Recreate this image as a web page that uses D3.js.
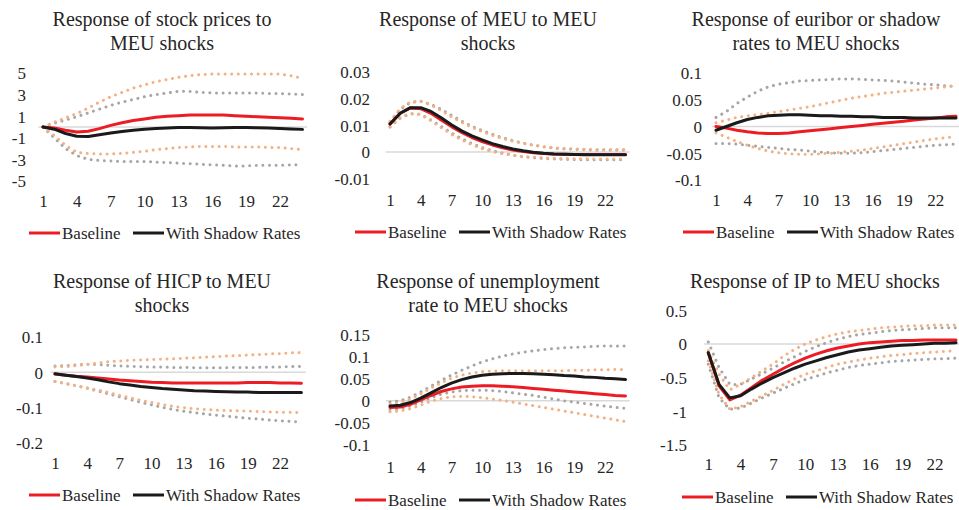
<!DOCTYPE html>
<html>
<head>
<meta charset="utf-8">
<script src="https://cdn.jsdelivr.net/npm/d3@7/dist/d3.min.js"></script>
<style>
  html, body { margin: 0; padding: 0; background: #ffffff; }
  svg { display: block; }
</style>
</head>
<body>
<svg id="chart" width="959" height="510"></svg>
<script>
// Horizon (periods after the shock) and the labelled periods on the x axis
const periods = [1,2,3,4,5,6,7,8,9,10,11,12,13,14,15,16,17,18,19,20,21,22,23,24];
const xTickLabels = [1,4,7,10,13,16,19,22];
const legendLabels = ["Baseline", "With Shadow Rates"];

// Stock prices
const stockTicks = [-5,-3,-1,1,3,5];
const stockBase = [0,-0.1,-0.3,-0.47,-0.4,-0.15,0.15,0.4,0.6,0.75,0.9,1.0,1.05,1.1,1.1,1.1,1.1,1.05,1.0,0.95,0.9,0.85,0.8,0.75];
const stockShadow = [0,-0.2,-0.6,-0.85,-0.87,-0.72,-0.55,-0.42,-0.3,-0.2,-0.15,-0.1,-0.05,-0.05,-0.08,-0.1,-0.07,-0.05,-0.05,-0.08,-0.1,-0.13,-0.18,-0.22];
const stockBaseUp = [0,0.45,0.85,1.25,1.75,2.3,2.8,3.2,3.6,3.9,4.2,4.4,4.6,4.75,4.85,4.9,4.9,4.9,4.9,4.9,4.9,4.9,4.75,4.5];
const stockBaseLow = [0,-0.8,-1.7,-2.35,-2.45,-2.5,-2.5,-2.45,-2.35,-2.25,-2.1,-2.0,-1.9,-1.85,-1.8,-1.8,-1.8,-1.85,-1.85,-1.85,-1.9,-1.9,-2.0,-2.1];
const stockShadowUp = [0,0.35,0.65,0.95,1.3,1.65,2.0,2.3,2.55,2.8,3.0,3.15,3.3,3.3,3.2,3.15,3.15,3.15,3.15,3.15,3.1,3.1,3.05,3.0];
const stockShadowLow = [0,-1.0,-2.0,-2.65,-3.0,-3.1,-3.15,-3.2,-3.2,-3.2,-3.25,-3.3,-3.35,-3.4,-3.45,-3.5,-3.55,-3.6,-3.6,-3.55,-3.55,-3.55,-3.5,-3.5];

// MEU
const meuTicks = [-0.01,0,0.01,0.02,0.03];
const meuBase = [0.0105,0.0145,0.0165,0.0162,0.0145,0.012,0.0095,0.0073,0.0054,0.0039,0.0026,0.0015,0.0007,0.0001,-0.0003,-0.0006,-0.0008,-0.0009,-0.001,-0.001,-0.001,-0.001,-0.001,-0.001];
const meuShadow = [0.0105,0.0145,0.0166,0.0166,0.0152,0.0128,0.0102,0.0079,0.006,0.0045,0.0031,0.002,0.0011,0.0004,-0.0001,-0.0005,-0.0008,-0.0009,-0.001,-0.0011,-0.0011,-0.0011,-0.0011,-0.0011];
const meuBaseUp = [0.0115,0.0162,0.0188,0.019,0.0176,0.0155,0.0132,0.0111,0.0092,0.0076,0.0062,0.005,0.004,0.0032,0.0025,0.002,0.0016,0.0013,0.0011,0.001,0.0009,0.0009,0.0009,0.0009];
const meuBaseLow = [0.0095,0.013,0.0145,0.014,0.0117,0.0091,0.0066,0.0045,0.0027,0.0012,0.0001,-0.0007,-0.0013,-0.0017,-0.002,-0.0022,-0.0024,-0.0025,-0.0026,-0.0026,-0.0027,-0.0027,-0.0027,-0.0027];
const meuShadowUp = [0.011,0.016,0.0185,0.019,0.0178,0.016,0.0137,0.0115,0.0096,0.008,0.0066,0.0053,0.0042,0.0033,0.0025,0.0019,0.0014,0.0011,0.0009,0.0008,0.0007,0.0007,0.0007,0.0007];
const meuShadowLow = [0.0093,0.0127,0.0143,0.0141,0.012,0.0096,0.0071,0.005,0.0031,0.0016,0.0004,-0.0005,-0.0012,-0.0018,-0.0022,-0.0025,-0.0027,-0.0028,-0.0029,-0.003,-0.003,-0.003,-0.003,-0.003];

// Euribor or shadow rates
const rateTicks = [-0.1,-0.05,0,0.05,0.1];
const rateBase = [0,-0.003,-0.007,-0.01,-0.012,-0.013,-0.013,-0.012,-0.01,-0.008,-0.006,-0.004,-0.002,0,0.002,0.004,0.006,0.008,0.01,0.012,0.014,0.016,0.018,0.019];
const rateShadow = [-0.007,0,0.007,0.013,0.017,0.02,0.021,0.022,0.022,0.021,0.02,0.02,0.019,0.019,0.018,0.018,0.017,0.017,0.017,0.016,0.016,0.016,0.016,0.016];
const rateBaseUp = [0.007,0.012,0.017,0.02,0.022,0.025,0.028,0.031,0.034,0.037,0.041,0.045,0.049,0.053,0.056,0.059,0.062,0.064,0.066,0.068,0.07,0.072,0.074,0.076];
const rateBaseLow = [-0.012,-0.02,-0.028,-0.035,-0.041,-0.046,-0.049,-0.051,-0.052,-0.052,-0.051,-0.05,-0.048,-0.046,-0.044,-0.041,-0.038,-0.035,-0.032,-0.029,-0.026,-0.023,-0.021,-0.019];
const rateShadowUp = [0.017,0.028,0.043,0.055,0.066,0.074,0.079,0.082,0.085,0.086,0.087,0.088,0.089,0.089,0.088,0.087,0.086,0.085,0.083,0.081,0.079,0.078,0.076,0.075];
const rateShadowLow = [-0.032,-0.032,-0.033,-0.035,-0.037,-0.039,-0.041,-0.043,-0.044,-0.046,-0.048,-0.049,-0.05,-0.05,-0.049,-0.047,-0.045,-0.043,-0.041,-0.039,-0.037,-0.035,-0.034,-0.033];

// HICP
const hicpTicks = [-0.2,-0.1,0,0.1];
const hicpBase = [-0.005,-0.008,-0.011,-0.013,-0.016,-0.019,-0.022,-0.024,-0.026,-0.028,-0.029,-0.03,-0.03,-0.03,-0.03,-0.03,-0.03,-0.03,-0.029,-0.029,-0.029,-0.03,-0.03,-0.031];
const hicpShadow = [-0.004,-0.008,-0.012,-0.016,-0.021,-0.027,-0.032,-0.036,-0.04,-0.043,-0.046,-0.048,-0.05,-0.052,-0.053,-0.054,-0.055,-0.056,-0.056,-0.057,-0.057,-0.057,-0.057,-0.057];
const hicpBaseUp = [0.015,0.016,0.019,0.022,0.026,0.03,0.032,0.034,0.035,0.036,0.037,0.038,0.04,0.041,0.043,0.044,0.046,0.047,0.049,0.05,0.052,0.053,0.055,0.056];
const hicpBaseLow = [-0.026,-0.032,-0.038,-0.044,-0.05,-0.057,-0.065,-0.072,-0.079,-0.085,-0.091,-0.096,-0.1,-0.103,-0.105,-0.107,-0.108,-0.109,-0.11,-0.111,-0.112,-0.113,-0.113,-0.114];
const hicpShadowUp = [0.018,0.019,0.021,0.023,0.022,0.02,0.018,0.017,0.016,0.015,0.015,0.014,0.014,0.013,0.013,0.013,0.013,0.014,0.014,0.014,0.015,0.015,0.016,0.017];
const hicpShadowLow = [-0.026,-0.032,-0.038,-0.045,-0.053,-0.061,-0.069,-0.077,-0.085,-0.092,-0.099,-0.105,-0.11,-0.114,-0.118,-0.121,-0.124,-0.127,-0.13,-0.132,-0.135,-0.137,-0.139,-0.141];

// Unemployment rate
const unempTicks = [-0.1,-0.05,0,0.05,0.1,0.15];
const unempBase = [-0.015,-0.014,-0.008,0.002,0.012,0.021,0.027,0.031,0.033,0.034,0.034,0.033,0.032,0.03,0.028,0.026,0.024,0.022,0.02,0.018,0.016,0.014,0.012,0.011];
const unempShadow = [-0.012,-0.01,-0.004,0.006,0.018,0.03,0.04,0.048,0.054,0.058,0.06,0.061,0.062,0.062,0.061,0.06,0.059,0.057,0.056,0.054,0.053,0.051,0.05,0.048];
const unempBaseUp = [-0.008,-0.004,0.004,0.016,0.029,0.041,0.051,0.058,0.063,0.066,0.067,0.068,0.068,0.068,0.068,0.068,0.068,0.068,0.069,0.069,0.07,0.07,0.071,0.071];
const unempBaseLow = [-0.025,-0.023,-0.018,-0.01,-0.001,0.005,0.009,0.01,0.009,0.007,0.004,0.001,-0.003,-0.007,-0.011,-0.015,-0.019,-0.023,-0.027,-0.031,-0.035,-0.039,-0.043,-0.047];
const unempShadowUp = [-0.003,0,0.008,0.02,0.033,0.046,0.058,0.069,0.079,0.088,0.095,0.101,0.106,0.11,0.113,0.116,0.118,0.12,0.121,0.122,0.123,0.124,0.124,0.124];
const unempShadowLow = [-0.02,-0.018,-0.012,-0.003,0.007,0.015,0.02,0.023,0.024,0.024,0.023,0.021,0.018,0.015,0.012,0.008,0.004,0,-0.003,-0.006,-0.009,-0.012,-0.015,-0.017];

// Industrial production
const ipTicks = [-1.5,-1,-0.5,0,0.5];
const ipBase = [-0.13,-0.62,-0.83,-0.76,-0.65,-0.54,-0.45,-0.36,-0.28,-0.21,-0.15,-0.1,-0.06,-0.03,0,0.02,0.03,0.04,0.05,0.05,0.06,0.06,0.06,0.06];
const ipShadow = [-0.13,-0.6,-0.8,-0.77,-0.67,-0.58,-0.5,-0.43,-0.36,-0.3,-0.25,-0.2,-0.16,-0.12,-0.09,-0.07,-0.05,-0.03,-0.02,-0.01,0,0.01,0.01,0.02];
const ipBaseUp = [-0.1,-0.45,-0.68,-0.6,-0.5,-0.4,-0.3,-0.18,-0.08,0,0.06,0.11,0.15,0.18,0.2,0.22,0.24,0.25,0.26,0.27,0.27,0.28,0.28,0.28];
const ipBaseLow = [-0.25,-0.75,-0.97,-0.93,-0.85,-0.77,-0.69,-0.6,-0.52,-0.45,-0.4,-0.35,-0.3,-0.27,-0.24,-0.21,-0.19,-0.17,-0.16,-0.14,-0.13,-0.12,-0.11,-0.1];
const ipShadowUp = [0.03,-0.35,-0.6,-0.6,-0.52,-0.44,-0.36,-0.27,-0.19,-0.11,-0.04,0.02,0.07,0.11,0.14,0.16,0.18,0.2,0.21,0.22,0.23,0.24,0.24,0.24];
const ipShadowLow = [-0.3,-0.8,-0.97,-0.95,-0.88,-0.8,-0.73,-0.66,-0.59,-0.53,-0.48,-0.43,-0.39,-0.35,-0.32,-0.3,-0.28,-0.26,-0.25,-0.24,-0.23,-0.22,-0.22,-0.21];

// Colours and text
const COL = {
  base: "#EC1C24",
  shadow: "#1A1A1A",
  baseBand: "#F4B183",
  shadowBand: "#A6A6A6",
  zero: "#D9D9D9",
  text: "#262626"
};
const FONT = "'Liberation Serif', 'Times New Roman', serif";

// Panel layout: title centre, first/last period position, value range on screen
const panels = [
  { title: ["Response of stock prices to", "MEU shocks"], cx: 162, titleY: 26,
    x0: 43, x1: 302.5, yDomain: [-5, 5], yRange: [181, 73], labelRight: 26, xLabelY: 201, legendY: 233,
    ticks: stockTicks, series: [stockBase, stockShadow, stockBaseUp, stockBaseLow, stockShadowUp, stockShadowLow] },
  { title: ["Response of MEU to MEU", "shocks"], cx: 488, titleY: 26,
    x0: 390, x1: 625.5, yDomain: [-0.01, 0.03], yRange: [178.5, 72], labelRight: 370, xLabelY: 200, legendY: 232,
    ticks: meuTicks, series: [meuBase, meuShadow, meuBaseUp, meuBaseLow, meuShadowUp, meuShadowLow] },
  { title: ["Response of euribor or shadow", "rates to MEU shocks"], cx: 816, titleY: 26,
    x0: 716, x1: 956, yDomain: [-0.1, 0.1], yRange: [180, 73], labelRight: 702, xLabelY: 200, legendY: 232,
    ticks: rateTicks, series: [rateBase, rateShadow, rateBaseUp, rateBaseLow, rateShadowUp, rateShadowLow] },
  { title: ["Response of HICP to MEU", "shocks"], cx: 162, titleY: 288,
    x0: 55, x1: 301.4, yDomain: [-0.2, 0.1], yRange: [443, 337], labelRight: 43, xLabelY: 463, legendY: 495,
    ticks: hicpTicks, series: [hicpBase, hicpShadow, hicpBaseUp, hicpBaseLow, hicpShadowUp, hicpShadowLow] },
  { title: ["Response of unemployment", "rate to MEU shocks"], cx: 488, titleY: 288,
    x0: 390, x1: 625.5, yDomain: [-0.1, 0.15], yRange: [445, 334.5], labelRight: 370, xLabelY: 467, legendY: 500,
    ticks: unempTicks, series: [unempBase, unempShadow, unempBaseUp, unempBaseLow, unempShadowUp, unempShadowLow] },
  { title: ["Response of IP to MEU shocks"], cx: 815, titleY: 288,
    x0: 708.3, x1: 956, yDomain: [-1.5, 0.5], yRange: [445, 310.3], labelRight: 687, xLabelY: 464, legendY: 497,
    ticks: ipTicks, series: [ipBase, ipShadow, ipBaseUp, ipBaseLow, ipShadowUp, ipShadowLow] }
];

const svg = d3.select("#chart");
const fmt = v => String(+v.toFixed(4)).replace("\u2212", "-");

panels.forEach(p => {
  const g = svg.append("g");
  const x = d3.scalePoint().domain(periods).range([p.x0, p.x1]);
  const y = d3.scaleLinear().domain(p.yDomain).range(p.yRange);
  const step = x.step();

  // Title
  const title = g.append("text")
    .attr("x", p.cx).attr("y", p.titleY)
    .attr("text-anchor", "middle")
    .attr("font-family", FONT).attr("font-size", 20)
    .attr("fill", COL.text);
  p.title.forEach((line, i) => {
    title.append("tspan").attr("x", p.cx).attr("dy", i === 0 ? 0 : 23.5).text(line);
  });

  // Zero line
  g.append("line")
    .attr("x1", p.x0 - step * 0.4).attr("x2", p.x1 + step * 0.4)
    .attr("y1", y(0)).attr("y2", y(0))
    .attr("stroke", COL.zero).attr("stroke-width", 1.5);

  // Value axis labels
  const ya = g.append("g")
    .attr("transform", `translate(${p.labelRight},0)`)
    .call(d3.axisLeft(y).tickValues(p.ticks).tickSize(0).tickPadding(0).tickFormat(fmt));
  ya.select(".domain").remove();
  ya.selectAll("text").attr("font-family", FONT).attr("font-size", 17)
    .attr("fill", COL.text).attr("dy", "0.35em");

  // Period axis labels
  const xa = g.append("g")
    .attr("transform", `translate(0,${p.xLabelY})`)
    .call(d3.axisBottom(x).tickValues(xTickLabels).tickSize(0).tickPadding(0));
  xa.select(".domain").remove();
  xa.selectAll("text").attr("font-family", FONT).attr("font-size", 17)
    .attr("fill", COL.text).attr("y", 0).attr("dy", "0.35em");

  const line = d3.line().x((d, i) => x(periods[i])).y(d => y(d)).curve(d3.curveLinear);
  const [base, shadow, baseUp, baseLow, shadowUp, shadowLow] = p.series;

  // Confidence bands (dotted)
  [[shadowUp, COL.shadowBand], [shadowLow, COL.shadowBand], [baseUp, COL.baseBand], [baseLow, COL.baseBand]]
    .forEach(([s, c]) => {
      g.append("path").datum(s).attr("d", line)
        .attr("fill", "none").attr("stroke", c).attr("stroke-width", 3)
        .attr("stroke-linecap", "round").attr("stroke-dasharray", "0.01 6.6");
    });

  // Point responses
  [[base, COL.base], [shadow, COL.shadow]].forEach(([s, c]) => {
    g.append("path").datum(s).attr("d", line)
      .attr("fill", "none").attr("stroke", c).attr("stroke-width", 3)
      .attr("stroke-linejoin", "round").attr("stroke-linecap", "round");
  });

  // Legend
  const lx = p.cx - 133;
  const legend = g.append("g").attr("transform", `translate(${lx},${p.legendY})`);
  const items = [
    { label: legendLabels[0], color: COL.base, off: 0 },
    { label: legendLabels[1], color: COL.shadow, off: 104 }
  ];
  items.forEach(it => {
    legend.append("line").attr("x1", it.off).attr("x2", it.off + 31)
      .attr("y1", 0).attr("y2", 0)
      .attr("stroke", it.color).attr("stroke-width", 3);
    legend.append("text").attr("x", it.off + 33).attr("y", 0).attr("dy", "0.35em")
      .attr("font-family", FONT).attr("font-size", 17).attr("fill", COL.text)
      .text(it.label);
  });
});
</script>
</body>
</html>
